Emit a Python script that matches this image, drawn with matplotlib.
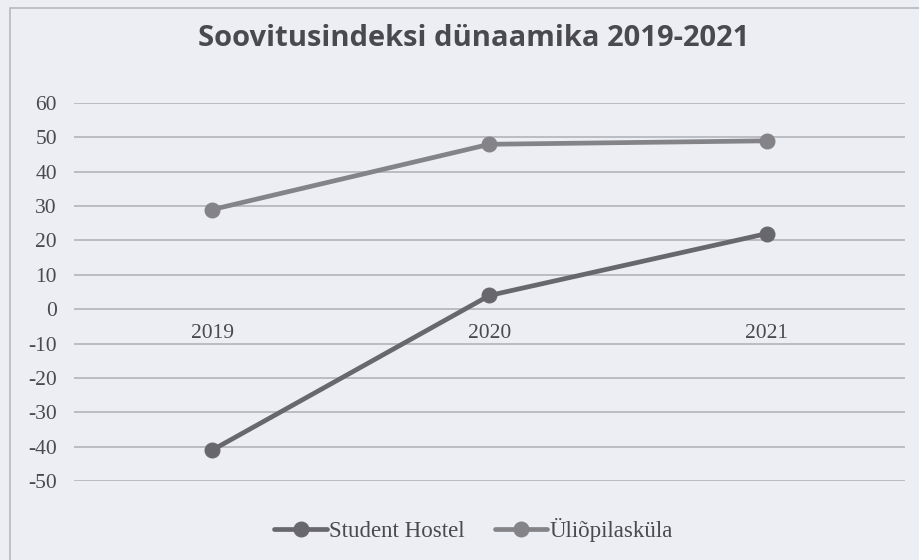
import numpy as np
import matplotlib.pyplot as plt
from matplotlib.patches import Rectangle

# --- andmed ---
years = ['2019', '2020', '2021']
student_hostel = [-41, 4, 22]
ulikopilaskula = [29, 48, 49]
series_names = ['Student Hostel', 'Üliõpilasküla']
y_ticks = list(range(-50, 61, 10))

plt.rcParams['font.family'] = ['Liberation Serif', 'DejaVu Serif']
plt.rcParams['axes.unicode_minus'] = False

bg = '#eceef4'
txt = '#4a4a4e'
fig = plt.figure(figsize=(9.2, 5.6), dpi=100, facecolor=bg)
ax = fig.add_axes([0.080, 0.141, 0.904, 0.675], facecolor=bg)

# raam ümber graafiku
fig.patches.append(Rectangle((0.011, -0.05), 1.2, 1.036, transform=fig.transFigure,
                             fill=False, edgecolor='#b8b9be', linewidth=1.2))

x = np.arange(len(years))
ax.plot(x, student_hostel, color='#68686c', lw=3.4, marker='o', markersize=10.5,
        solid_capstyle='round', label=series_names[0], zorder=3)
ax.plot(x, ulikopilaskula, color='#848488', lw=3.4, marker='o', markersize=10.5,
        solid_capstyle='round', label=series_names[1], zorder=3)

ax.set_xlim(-0.5, len(years) - 0.5)
ax.set_ylim(-50, 60)
ax.set_yticks(y_ticks)
ax.yaxis.grid(True, color='#aeafb3', linewidth=1.1)
ax.set_axisbelow(True)

for s in ['left', 'right', 'top']:
    ax.spines[s].set_visible(False)
ax.spines['bottom'].set_position(('data', 0))
ax.spines['bottom'].set_visible(False)

ax.set_xticks(x)
ax.set_xticklabels(years)
ax.tick_params(axis='x', length=0, pad=11, labelsize=15.5, labelcolor=txt)
ax.tick_params(axis='y', length=0, pad=12, labelsize=15.5, labelcolor=txt)

fig.text(0.515, 0.932, 'Soovitusindeksi dünaamika 2019-2021', ha='center', va='center',
         fontsize=21, fontweight='bold', family='Open Sans', color=txt)

leg = ax.legend(loc='center', bbox_to_anchor=(0.481, -0.13), ncol=2, frameon=False,
                handlelength=2.3, columnspacing=1.3, handletextpad=0.1,
                prop={'size': 16.5})
for t in leg.get_texts():
    t.set_color(txt)

fig.savefig('out.png', dpi=100, facecolor=bg)
